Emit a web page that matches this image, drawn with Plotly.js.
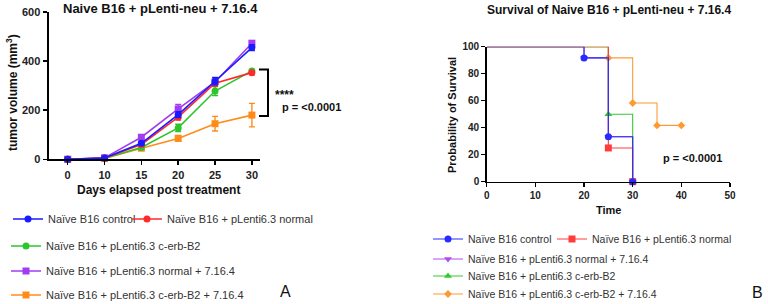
<!DOCTYPE html>
<html>
<head>
<meta charset="utf-8">
<script src="https://cdn.plot.ly/plotly-3.0.1.min.js"></script>
<style>html,body{margin:0;padding:0;background:#fff;}#chart{width:768px;height:304px;}</style>
</head>
<body>
<div id="chart"></div>
<script>
// ---------- Panel A: tumor growth ----------
const days = ['0', '10', '15', '20', '25', '30'];
const groupNames = [
  'Naïve B16 control',
  'Naïve B16 + pLenti6.3 normal',
  'Naïve B16 + pLenti6.3 c-erb-B2',
  'Naïve B16 + pLenti6.3 normal + 7.16.4',
  'Naïve B16 + pLenti6.3 c-erb-B2 + 7.16.4'
];
const volControl = [0, 5, 65, 182, 318, 455];
const errControl = [2, 3, 8, 12, 15, 12];
const volNormal = [0, 5, 60, 172, 310, 353];
const errNormal = [2, 3, 6, 12, 12, 8];
const volCerb = [0, 4, 48, 128, 278, 360];
const errCerb = [2, 2, 6, 15, 18, 6];
const volNormal7164 = [0, 6, 90, 205, 315, 473];
const errNormal7164 = [2, 3, 8, 18, 10, 8];
const volCerb7164 = [0, 3, 45, 85, 145, 180];
const errCerb7164 = [2, 2, 5, 12, 30, 48];

// ---------- Panel B: survival ----------
const survTimeControl = [0, 20, 25, 30];
const survControl = [100, 91.7, 33.3, 0];
const survTimeNormal = [0, 25, 30];
const survNormal = [100, 25, 0];
const survTimeNormal7164 = [0, 20, 25, 30];
const survNormal7164 = [100, 91.7, 33.3, 0];
const survTimeCerb = [0, 25, 30];
const survCerb = [100, 50, 0];
const survTimeCerb7164 = [0, 25, 30, 35, 40];
const survCerb7164 = [100, 91.7, 58.3, 41.7, 41.7];

const cBlue = '#1a1aff', cRed = '#ff2a2a', cGreen = '#2ec42e', cPurple = '#a23cf0', cOrange = '#ff8c1a';
const cBlueB = '#2a2aff', cRedB = '#ff3c3c', cGreenB = '#33c933', cPurpleB = '#b04cf0', cOrangeB = '#ff9a33';

function growth(y, err, name, color, symbol, leg) {
  return {
    x: days, y: y, name: name, type: 'scatter', mode: 'lines+markers',
    xaxis: 'x', yaxis: 'y', legend: leg, cliponaxis: false,
    line: {color: color, width: 1.6},
    marker: {color: color, size: 7, symbol: symbol},
    error_y: {type: 'data', array: err, visible: true, color: color, thickness: 1.4, width: 3}
  };
}
// survival curve: initial plateau (line only) + event steps (line + markers)
function surv(t, s, name, color, symbol, leg) {
  const size = symbol === 'diamond' ? 6 : 7;
  return [
    {
      x: t.slice(0, 2), y: s.slice(0, 2), name: name, type: 'scatter', mode: 'lines',
      xaxis: 'x2', yaxis: 'y2', showlegend: false, cliponaxis: false,
      line: {color: color, width: 1.1, shape: 'hv'}
    },
    {
      x: t.slice(1), y: s.slice(1), name: name, type: 'scatter', mode: 'lines+markers',
      xaxis: 'x2', yaxis: 'y2', legend: leg, cliponaxis: false,
      line: {color: color, width: 1.1, shape: 'hv'},
      marker: {color: color, size: size, symbol: symbol}
    }
  ];
}

const data = [
  growth(volCerb7164, errCerb7164, groupNames[4], cOrange, 'square', 'legend5'),
  growth(volCerb, errCerb, groupNames[2], cGreen, 'circle', 'legend3'),
  growth(volNormal7164, errNormal7164, groupNames[3], cPurple, 'square', 'legend4'),
  growth(volNormal, errNormal, groupNames[1], cRed, 'circle', 'legend2'),
  growth(volControl, errControl, groupNames[0], cBlue, 'circle', 'legend'),
  ...surv(survTimeNormal7164, survNormal7164, groupNames[3], cPurpleB, 'triangle-down', 'legend8'),
  ...surv(survTimeCerb7164, survCerb7164, groupNames[4], cOrangeB, 'diamond', 'legend10'),
  ...surv(survTimeCerb, survCerb, groupNames[2], cGreenB, 'triangle-up', 'legend9'),
  ...surv(survTimeNormal, survNormal, groupNames[1], cRedB, 'square', 'legend7'),
  ...surv(survTimeControl, survControl, groupNames[0], cBlueB, 'circle', 'legend6')
];

const W = 768, H = 304;
const px = v => v / W;
const py = v => 1 - v / H;
const FONT = 'Liberation Sans, Arial, sans-serif';

function leg(xText, yMid, size) {
  return {x: px(xText - 40), y: py(yMid), xanchor: 'left', yanchor: 'middle',
    bgcolor: 'rgba(0,0,0,0)', font: {family: FONT, size: size || 11, color: '#333'},
    orientation: 'v', itemwidth: 30, tracegroupgap: 0};
}

const axisCommon = {
  showline: true, linecolor: '#000', linewidth: 2, ticks: 'outside', ticklen: 4,
  tickcolor: '#000', tickwidth: 1.5, showgrid: false, zeroline: false,
  tickfont: {family: FONT, size: 11, color: '#222', weight: 'bold'}
};

const layout = {
  width: W, height: H, margin: {l: 0, r: 0, t: 0, b: 0, autoexpand: false},
  paper_bgcolor: '#fff', plot_bgcolor: '#fff',
  font: {family: FONT, color: '#222'},
  showlegend: true,
  xaxis: Object.assign({}, axisCommon, {
    domain: [px(48.5), px(260)], anchor: 'y', type: 'category',
    range: [-0.52, 5.22]
  }),
  yaxis: Object.assign({}, axisCommon, {
    domain: [py(159.3), py(12)], anchor: 'x', range: [0, 600], tickvals: [0, 200, 400, 600]
  }),
  xaxis2: Object.assign({}, axisCommon, {
    domain: [px(486.7), px(730)], anchor: 'y2', range: [0, 50], dtick: 10, linewidth: 1.5,
    tickfont: {family: FONT, size: 10, color: '#222', weight: 'bold'}
  }),
  yaxis2: Object.assign({}, axisCommon, {
    domain: [py(181.7), py(46.7)], anchor: 'x2', range: [0, 100], dtick: 20, linewidth: 1.5,
    tickfont: {family: FONT, size: 10, color: '#222', weight: 'bold'}
  }),
  legend: leg(48, 219),
  legend2: leg(167, 219),
  legend3: leg(46, 246),
  legend4: leg(46, 271),
  legend5: leg(46, 295),
  legend6: leg(468, 239, 10.5),
  legend7: leg(592, 239, 10.5),
  legend8: leg(468, 259, 10.5),
  legend9: leg(468, 276, 10.5),
  legend10: leg(468, 294, 10.5),
  shapes: [
    {type: 'path', xref: 'paper', yref: 'paper',
     path: `M ${px(259)} ${py(69.5)} L ${px(268)} ${py(69.5)} L ${px(268)} ${py(116)} L ${px(259)} ${py(116)}`,
     line: {color: '#000', width: 2}}
  ],
  annotations: [
    {text: '<b>Naive B16 + pLenti-neu + 7.16.4</b>', x: px(160), y: py(9), xref: 'paper', yref: 'paper',
     xanchor: 'center', yanchor: 'middle', showarrow: false, font: {family: FONT, size: 13, color: '#111'}},
    {text: '<b>tumor volume (mm<sup>3</sup>)</b>', x: px(12), y: py(93), xref: 'paper', yref: 'paper',
     xanchor: 'center', yanchor: 'middle', textangle: -90, showarrow: false, font: {family: FONT, size: 12, color: '#111'}},
    {text: '<b>Days elapsed post treatment</b>', x: px(158), y: py(190), xref: 'paper', yref: 'paper',
     xanchor: 'center', yanchor: 'middle', showarrow: false, font: {family: FONT, size: 12, color: '#111'}},
    {text: '<b>****</b>', x: px(273), y: py(95), xref: 'paper', yref: 'paper',
     xanchor: 'left', yanchor: 'middle', showarrow: false, font: {family: FONT, size: 12, color: '#111'}},
    {text: '<b>p = <0.0001</b>', x: px(280), y: py(107), xref: 'paper', yref: 'paper',
     xanchor: 'left', yanchor: 'middle', showarrow: false, font: {family: FONT, size: 11, color: '#111'}},
    {text: 'A', x: px(285), y: py(291), xref: 'paper', yref: 'paper',
     xanchor: 'center', yanchor: 'middle', showarrow: false, font: {family: FONT, size: 16, color: '#111'}},
    {text: '<b>Survival of Naive B16 + pLenti-neu + 7.16.4</b>', x: px(609), y: py(10), xref: 'paper', yref: 'paper',
     xanchor: 'center', yanchor: 'middle', showarrow: false, font: {family: FONT, size: 12, color: '#111'}},
    {text: '<b>Probability of Survival</b>', x: px(452), y: py(115), xref: 'paper', yref: 'paper',
     xanchor: 'center', yanchor: 'middle', textangle: -90, showarrow: false, font: {family: FONT, size: 11, color: '#111'}},
    {text: '<b>Time</b>', x: px(608), y: py(210), xref: 'paper', yref: 'paper',
     xanchor: 'center', yanchor: 'middle', showarrow: false, font: {family: FONT, size: 11, color: '#111'}},
    {text: '<b>p = <0.0001</b>', x: px(661), y: py(158), xref: 'paper', yref: 'paper',
     xanchor: 'left', yanchor: 'middle', showarrow: false, font: {family: FONT, size: 11, color: '#111'}},
    {text: 'B', x: px(757), y: py(292), xref: 'paper', yref: 'paper',
     xanchor: 'center', yanchor: 'middle', showarrow: false, font: {family: FONT, size: 16, color: '#111'}}
  ]
};

Plotly.newPlot('chart', data, layout, {staticPlot: true, displayModeBar: false});
</script>
</body>
</html>
